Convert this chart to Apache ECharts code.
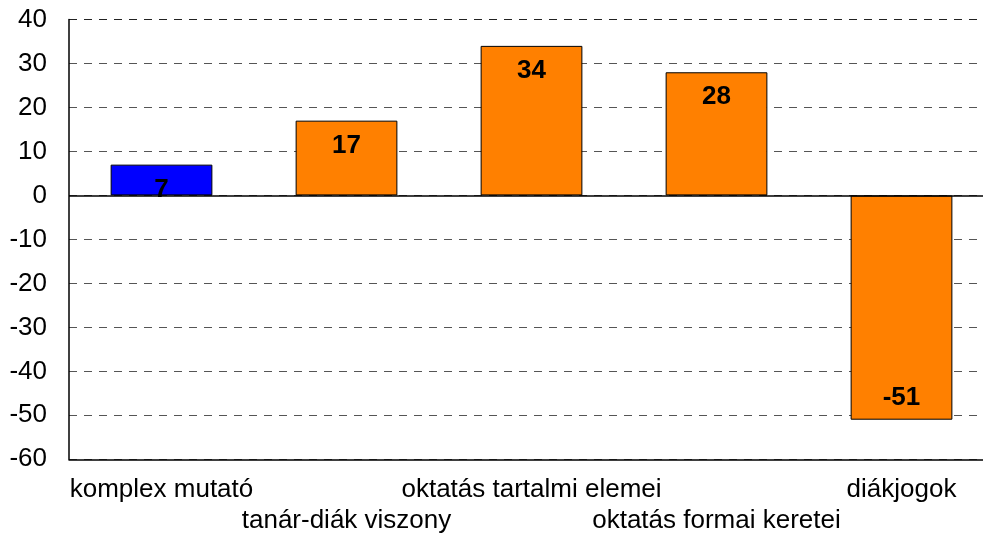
<!DOCTYPE html>
<html>
<head>
<meta charset="utf-8">
<script src="https://cdn.jsdelivr.net/npm/echarts@6/dist/echarts.min.js"></script>
<style>html,body{margin:0;padding:0;background:#fff;overflow:hidden;}#c{width:994px;height:534px;}</style>
</head>
<body>
<div id="c"></div>
<script>
const categories = ['komplex mutató', 'tanár-diák viszony', 'oktatás tartalmi elemei', 'oktatás formai keretei', 'diákjogok'];
const values = [7, 17, 34, 28, -51];
const highlightIndex = 0;

const FONT = '"Liberation Sans", Arial, sans-serif';
const gridColors = ['#555','#555','#555','#555','#555','#555','#555','#555','#555','#555','#222'];

const chart = echarts.init(document.getElementById('c'), null, {renderer: 'canvas'});
chart.setOption({
  animation: false,
  backgroundColor: '#fff',
  grid: {left: 69, top: 19.5, right: 0, bottom: 74.7, containLabel: false, outerBoundsMode: 'none'},
  xAxis: {
    type: 'category',
    data: categories,
    axisLine: {onZero: false, lineStyle: {color: '#000', width: 1.5}},
    axisTick: {show: false},
    axisLabel: {
      interval: 0,
      margin: 15,
      fontFamily: FONT,
      fontSize: 26,
      lineHeight: 31,
      color: '#000',
      formatter: (v, i) => (i % 2 === 1 ? '\n' + v : v)
    },
    splitLine: {show: false}
  },
  yAxis: {
    type: 'value',
    min: -60, max: 40, interval: 10,
    axisLine: {show: true, lineStyle: {color: '#000', width: 1.5}},
    axisTick: {show: false},
    axisLabel: {margin: 22, fontFamily: FONT, fontSize: 26, color: '#000'},
    splitLine: {show: true, lineStyle: {color: gridColors, type: [8, 7], width: 1}}
  },
  series: [{
    type: 'bar',
    barWidth: '55%',
    data: values.map((v, i) => ({
      value: v,
      itemStyle: {color: i === highlightIndex ? '#0000ff' : '#ff8000'},
      label: {position: v < 0 ? 'insideBottom' : 'insideTop', distance: v < 0 ? 9 : 12}
    })),
    itemStyle: {borderColor: '#000', borderWidth: 1},
    label: {
      show: true,
      fontFamily: FONT,
      fontSize: 26,
      fontWeight: 'bold',
      color: '#000'
    },
    markLine: {
      silent: true,
      symbol: ['none', 'none'],
      label: {show: false},
      lineStyle: {color: '#000', type: 'solid', width: 1.5},
      data: [{yAxis: 0}]
    }
  }]
});
</script>
</body>
</html>
